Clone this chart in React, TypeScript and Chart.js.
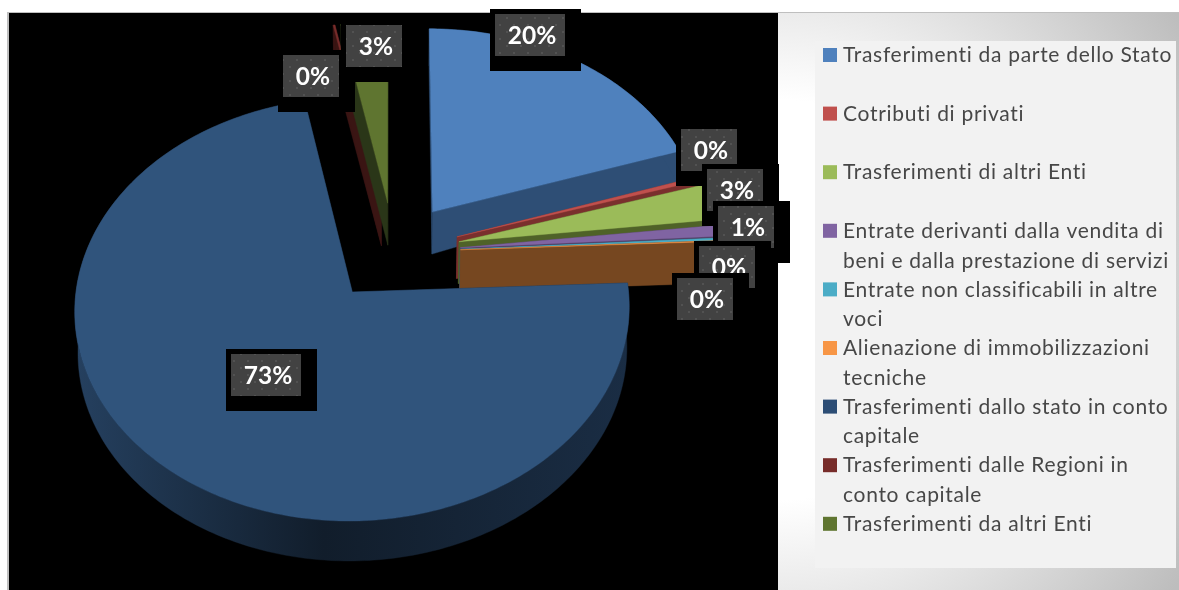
import React, { useEffect, useRef } from "react";
import { Chart, registerables } from "chart.js";

Chart.register(...registerables);

const categories = [
  "Trasferimenti da parte dello Stato",
  "Cotributi di privati",
  "Trasferimenti di altri Enti",
  "Entrate derivanti dalla vendita di beni e dalla prestazione di servizi",
  "Entrate non classificabili in altre voci",
  "Alienazione di immobilizzazioni tecniche",
  "Trasferimenti dallo stato in conto capitale",
  "Trasferimenti dalle Regioni in conto capitale",
  "Trasferimenti da altri Enti",
];
const shares = [19.9, 0.33, 2.95, 0.9, 0.18, 0.07, 72.51, 0.12, 3.04];
const topColors = ["#4F81BD", "#C0504D", "#9BBB59", "#8064A2", "#4BACC6", "#F79646", "#2C4D75", "#772C2A", "#5F7530"];
const wallColors = ["#2E4E75", "#7A2F2D", "#4F6228", "#4E3D63", "#2C6B7C", "#764720", "#1A2D44", "#3A1513", "#2A3618"];

// Painter's order, far slices first.
const paintOrder = [7, 8, 0, 1, 2, 3, 4, 5, 6];

// Top-left corners of the grey label plates, one per slice.
const labelCorners = [
  [495, 14], [681, 129], [707, 169], [718, 206], [699, 246], [677, 278], [231, 354], [283, 55], [346, 25],
];

// Projection of the tilted disc.
const CX = 394, CY = 252, AX = 272, BY = 204, PERSP = 0.08, EXPLODE = 0.245;
const project = (u: number, v: number) => {
  const w = 1 - PERSP * v;
  return { x: CX + (AX * u) / w, y: CY + (BY * v) / w };
};
const depthAt = (u: number, v: number) => {
  const back = v < -0.2 ? (-0.2 - v) * 35 * Math.min(1, Math.max(0, u)) : 0;
  const front = v > -0.2 ? (v + 0.2) * 1.5 : 0;
  return 42 - back - front;
};
const lower = (u: number, v: number) => {
  const p = project(u, v);
  return { x: CX + (p.x - CX) * 0.99, y: p.y + depthAt(u, v) };
};

let dotsCache: HTMLCanvasElement | null = null;
const dots = () => {
  if (dotsCache) return dotsCache;
  const c = document.createElement("canvas");
  c.width = 14;
  c.height = 14;
  const g = c.getContext("2d")!;
  g.fillStyle = "#424242";
  g.fillRect(0, 0, 14, 14);
  g.fillStyle = "#525252";
  g.fillRect(2, 3, 2, 2);
  g.fillRect(9, 10, 2, 2);
  dotsCache = c;
  return c;
};

const wrap = (ctx: CanvasRenderingContext2D, text: string, maxW: number) => {
  const lines: string[] = [];
  let cur = "";
  for (const word of text.split(" ")) {
    const next = cur ? cur + " " + word : word;
    if (ctx.measureText(next).width > maxW && cur) {
      lines.push(cur);
      cur = word;
    } else cur = next;
  }
  lines.push(cur);
  return lines;
};

const backdrop = {
  id: "backdrop",
  beforeDraw(chart: any) {
    const ctx = chart.ctx as CanvasRenderingContext2D;
    ctx.save();
    ctx.fillStyle = "#FFFFFF";
    ctx.fillRect(0, 0, 1179, 590);
    const g = ctx.createRadialGradient(778, 300, 200, 778, 300, 490);
    g.addColorStop(0, "#FFFFFF");
    g.addColorStop(1, "#BDBDBD");
    ctx.fillStyle = g;
    ctx.fillRect(778, 13, 401, 577);
    ctx.fillStyle = "#F2F2F2";
    ctx.fillRect(815, 41, 361, 527);
    ctx.fillStyle = "#000000";
    ctx.fillRect(9, 13, 769, 577);
    ctx.fillStyle = "#BFBFBF";
    ctx.fillRect(7, 12, 1172, 1);
    ctx.fillRect(7, 12, 2, 578);
    ctx.restore();
  },
};

const pie3d = {
  id: "pie3d",
  beforeDatasetsDraw(chart: any) {
    const ctx = chart.ctx as CanvasRenderingContext2D;
    const arcs = chart.getDatasetMeta(0).data;
    const trace = (pts: { x: number; y: number }[], color: string) => {
      ctx.beginPath();
      pts.forEach((p, i) => (i ? ctx.lineTo(p.x, p.y) : ctx.moveTo(p.x, p.y)));
      ctx.closePath();
      ctx.fillStyle = color as any;
      ctx.fill();
      ctx.strokeStyle = color as any;
      ctx.lineWidth = 0.4;
      ctx.stroke();
    };
    ctx.save();
    for (const i of paintOrder) {
      const a = arcs[i];
      const mid = (a.startAngle + a.endAngle) / 2;
      const ou = EXPLODE * Math.cos(mid);
      const ov = EXPLODE * Math.sin(mid);
      const steps = Math.max(2, Math.ceil((a.endAngle - a.startAngle) * 60));
      const rim: [number, number][] = [];
      for (let s = 0; s <= steps; s++) {
        const t = a.startAngle + ((a.endAngle - a.startAngle) * s) / steps;
        rim.push([ou + Math.cos(t), ov + Math.sin(t)]);
      }
      const wall = wallColors[i];
      const first = rim[0];
      const last = rim[rim.length - 1];
      // radial faces
      trace([project(ou, ov), project(first[0], first[1]), lower(first[0], first[1]), lower(ou, ov)], wall);
      trace([project(ou, ov), project(last[0], last[1]), lower(last[0], last[1]), lower(ou, ov)], wall);
      // outer rim
      let rimFill: any = wall;
      if (i === 6) {
        const g = ctx.createLinearGradient(76, 0, 627, 0);
        g.addColorStop(0, "#25405F");
        g.addColorStop(0.45, "#111D2B");
        g.addColorStop(1, "#1A2D44");
        rimFill = g;
      }
      trace(
        [...rim.map((p) => project(p[0], p[1])), ...rim.slice().reverse().map((p) => lower(p[0], p[1]))],
        rimFill
      );
      // top face
      const top = i === 6 ? "#30547C" : a.options.backgroundColor;
      trace([project(ou, ov), ...rim.map((p) => project(p[0], p[1]))], top);
    }
    ctx.restore();
    return false;
  },
};

const annotations = {
  id: "annotations",
  afterDraw(chart: any) {
    const ctx = chart.ctx as CanvasRenderingContext2D;
    const data: number[] = chart.data.datasets[0].data;
    ctx.save();
    // value plates
    const pattern = ctx.createPattern(dots(), "repeat")!;
    data.forEach((v, i) => {
      const text = Math.round(v) + "%";
      const [x, y] = labelCorners[i];
      const w = text.length === 3 ? 70 : 56;
      const h = 42;
      ctx.fillStyle = "#000000";
      ctx.fillRect(x - 5, y - 5, w + 21, h + 20);
      ctx.fillStyle = pattern;
      ctx.fillRect(x, y, w, h);
      ctx.fillStyle = "#FFFFFF";
      ctx.font = "bold 24.5px Lato";
      ctx.textAlign = "center";
      ctx.textBaseline = "middle";
      ctx.fillText(text, x + w / 2 + 2, y + h / 2 + 1);
    });
    // legend
    ctx.textAlign = "left";
    ctx.textBaseline = "middle";
    ctx.font = "21px Lato";
    (ctx as any).letterSpacing = "0.7px";
    let y = 55;
    chart.data.labels.forEach((label: string, i: number) => {
      ctx.fillStyle = topColors[i];
      ctx.fillRect(823, y - 7, 14, 14);
      ctx.fillStyle = "#474747";
      const lines = wrap(ctx, label, 332);
      lines.forEach((line, k) => ctx.fillText(line, 843, y + 0.5 + k * 29.6));
      y += 58.6;
    });
    ctx.restore();
  },
};

export default function App() {
  const ref = useRef<HTMLCanvasElement>(null);
  useEffect(() => {
    document.body.style.margin = "0";
    const chart = new Chart(ref.current!, {
      type: "pie",
      data: {
        labels: categories,
        datasets: [{ data: shares, backgroundColor: topColors, borderWidth: 0 }],
      },
      options: {
        responsive: false,
        animation: false,
        rotation: -0.05,
        plugins: { legend: { display: false }, tooltip: { enabled: false } },
      },
      plugins: [backdrop, pie3d, annotations],
    } as any);
    return () => chart.destroy();
  }, []);
  return <canvas ref={ref} width={1179} height={590} style={{ display: "block" }} />;
}
